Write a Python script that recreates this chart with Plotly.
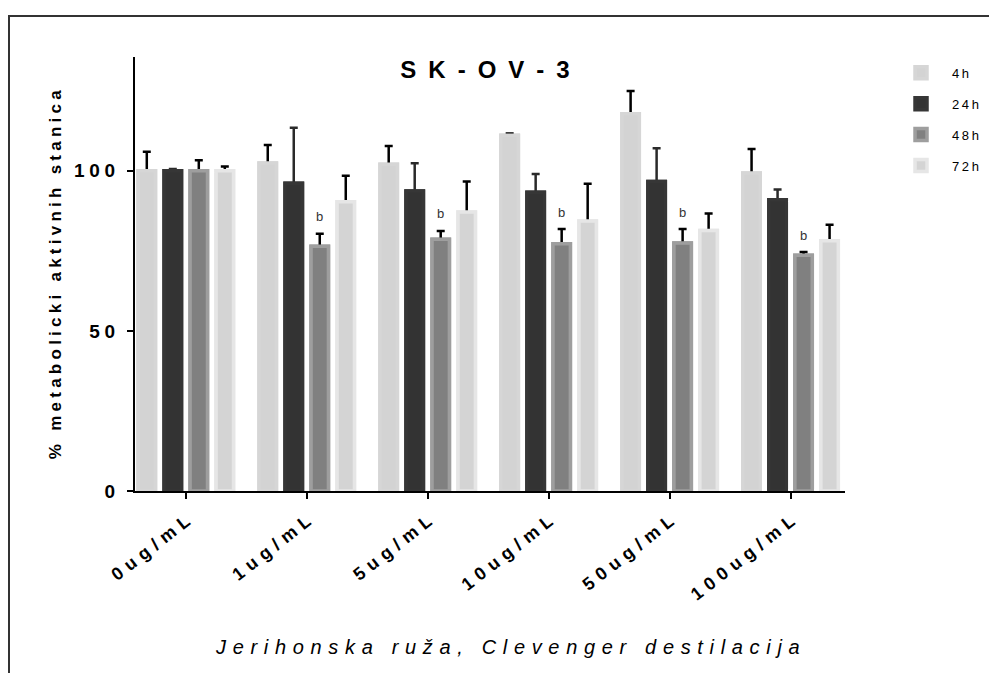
import plotly.graph_objects as go

# ---------------- data ----------------
categories = ["0ug/mL", "1ug/mL", "5ug/mL", "10ug/mL", "50ug/mL", "100ug/mL"]
series_names = ["4h", "24h", "48h", "72h"]

v4 = [100, 102.4, 102.0, 111.1, 117.8, 99.3]
e4 = [5.9, 5.6, 5.7, 0.5, 7.1, 7.5]
v24 = [100, 96.1, 93.7, 93.3, 96.6, 90.9]
e24 = [0.5, 17.3, 8.6, 5.7, 10.4, 3.2]
v48 = [100, 76.4, 78.6, 77.2, 77.4, 73.6]
e48 = [3.3, 3.9, 2.6, 4.6, 4.4, 1.0]
v72 = [100, 90.3, 87.1, 84.3, 81.3, 78.1]
e72 = [1.3, 8.1, 9.5, 11.6, 5.3, 5.0]

b_marks = ["", "b", "b", "b", "b", "b"]   # significance letters over 48h bars

y_tickvals = [0, 50, 100]
y_ticktext = ["0", "50", "100"]

title_text = "SK-OV-3"
y_title = "% metabolicki aktivnih stanica"
x_title = "Jerihonska ruža, Clevenger destilacija"

# ---------------- styles ----------------
FONT = "Liberation Sans, Arial, sans-serif"
fills = ["#d3d3d3", "#333333", "#808080", "#d4d4d4"]
borders = ["#d6d6d6", "#363636", "#9e9e9e", "#e6e6e6"]
err_colors = ["#000000", "#2a2a2a", "#000000", "#000000"]
BARGAP = 0.14
BARGROUPGAP = 0.33
LW = 3.5

W, H = 989, 665          # page adds an 8 px body margin
ML, MT = 127, 49
PW, PH = 710, 433.7


def spaced(s, sep="\u2009"):
    return sep.join(list(s))


values = [v4, v24, v48, v72]
errors = [e4, e24, e48, e72]

fig = go.Figure()
for i, (name, v, e) in enumerate(zip(series_names, values, errors)):
    fig.add_trace(go.Bar(
        x=categories, y=v, name=spaced(name, "\u2009"),
        offsetgroup=str(i), legendgroup=str(i),
        marker=dict(color=fills[i], line=dict(color=borders[i], width=LW)),
        error_y=dict(type="data", array=e, visible=True, color=err_colors[i],
                     thickness=2.5, width=4),
        showlegend=True,
    ))
for i, (name, v) in enumerate(zip(series_names, values)):
    # same bar drawn again on top to hide the lower half of the error bar
    fig.add_trace(go.Bar(
        x=categories, y=v, name=name,
        offsetgroup=str(i), legendgroup=str(i),
        marker=dict(color=fills[i], line=dict(color=borders[i], width=LW)),
        showlegend=False, hoverinfo="skip",
    ))

# significance letters above 48h bars
slot = (1 - BARGAP) / len(series_names)
off48 = (2 - (len(series_names) - 1) / 2) * slot
for k, mark in enumerate(b_marks):
    if mark:
        fig.add_annotation(
            x=k + off48, y=v48[k] + e48[k], xref="x", yref="y",
            text=mark, showarrow=False, yanchor="middle", yshift=17,
            font=dict(family=FONT, size=13, color="#333333"))

# axis titles
fig.add_annotation(
    x=(499 - ML) / PW, y=(MT + PH - 639) / PH, xref="paper", yref="paper",
    text="<i>" + spaced(x_title, "\u2004") + "</i>", showarrow=False,
    xanchor="center", yanchor="middle",
    font=dict(family=FONT, size=20, color="black"))
fig.add_annotation(
    x=(47 - ML) / PW, y=(MT + PH - 267) / PH, xref="paper", yref="paper",
    text="<b>" + spaced(y_title, "\u2005") + "</b>", showarrow=False,
    textangle=-90, xanchor="center", yanchor="middle",
    font=dict(family=FONT, size=17, color="black"))

# frame around the figure
fig.add_shape(type="rect", xref="paper", yref="paper",
              x0=(1 - ML) / PW, x1=(W + 20 - ML) / PW,
              y0=(MT + PH - (H + 20)) / PH, y1=(MT + PH - 8) / PH,
              line=dict(color="#333333", width=2), fillcolor="rgba(0,0,0,0)")

fig.update_layout(
    width=W, height=H,
    margin=dict(l=ML, r=W - ML - PW, t=MT, b=H - MT - PH),
    paper_bgcolor="white", plot_bgcolor="white",
    barmode="group", bargap=BARGAP, bargroupgap=BARGROUPGAP,
    font=dict(family=FONT, color="black"),
    title=dict(text="<b>" + spaced(title_text, "\u2002") + "</b>",
               x=(477 - ML) / PW, xref="paper", y=1 - 62 / H, yref="container",
               xanchor="center", yanchor="middle",
               font=dict(family=FONT, size=24, color="black")),
    legend=dict(x=1.0634, y=0.998, xanchor="left", yanchor="top",
                traceorder="grouped", tracegroupgap=11, itemwidth=52,
                font=dict(family=FONT, size=13, color="black"),
                bgcolor="rgba(0,0,0,0)"),
    showlegend=True,
)

fig.update_xaxes(
    type="category", range=[-0.42, 5.45],
    showline=True, linecolor="black", linewidth=2,
    ticks="outside", ticklen=6, tickwidth=2, tickcolor="black",
    tickangle=-38, ticklabelstandoff=5,
    tickvals=categories,
    ticktext=["<b>" + spaced(c, "\u2004") + "</b>" for c in categories],
    tickfont=dict(family=FONT, size=18, color="black"),
    showgrid=False, zeroline=False,
)
fig.update_yaxes(
    range=[0, 135.5],
    showline=True, linecolor="black", linewidth=2,
    ticks="outside", ticklen=6, tickwidth=2, tickcolor="black",
    ticklabelstandoff=8,
    tickvals=y_tickvals,
    ticktext=["<b>" + spaced(t, "\u2005") + "</b>" for t in y_ticktext],
    tickfont=dict(family=FONT, size=19, color="black"),
    showgrid=False, zeroline=False,
)

fig.write_html("out.html")
